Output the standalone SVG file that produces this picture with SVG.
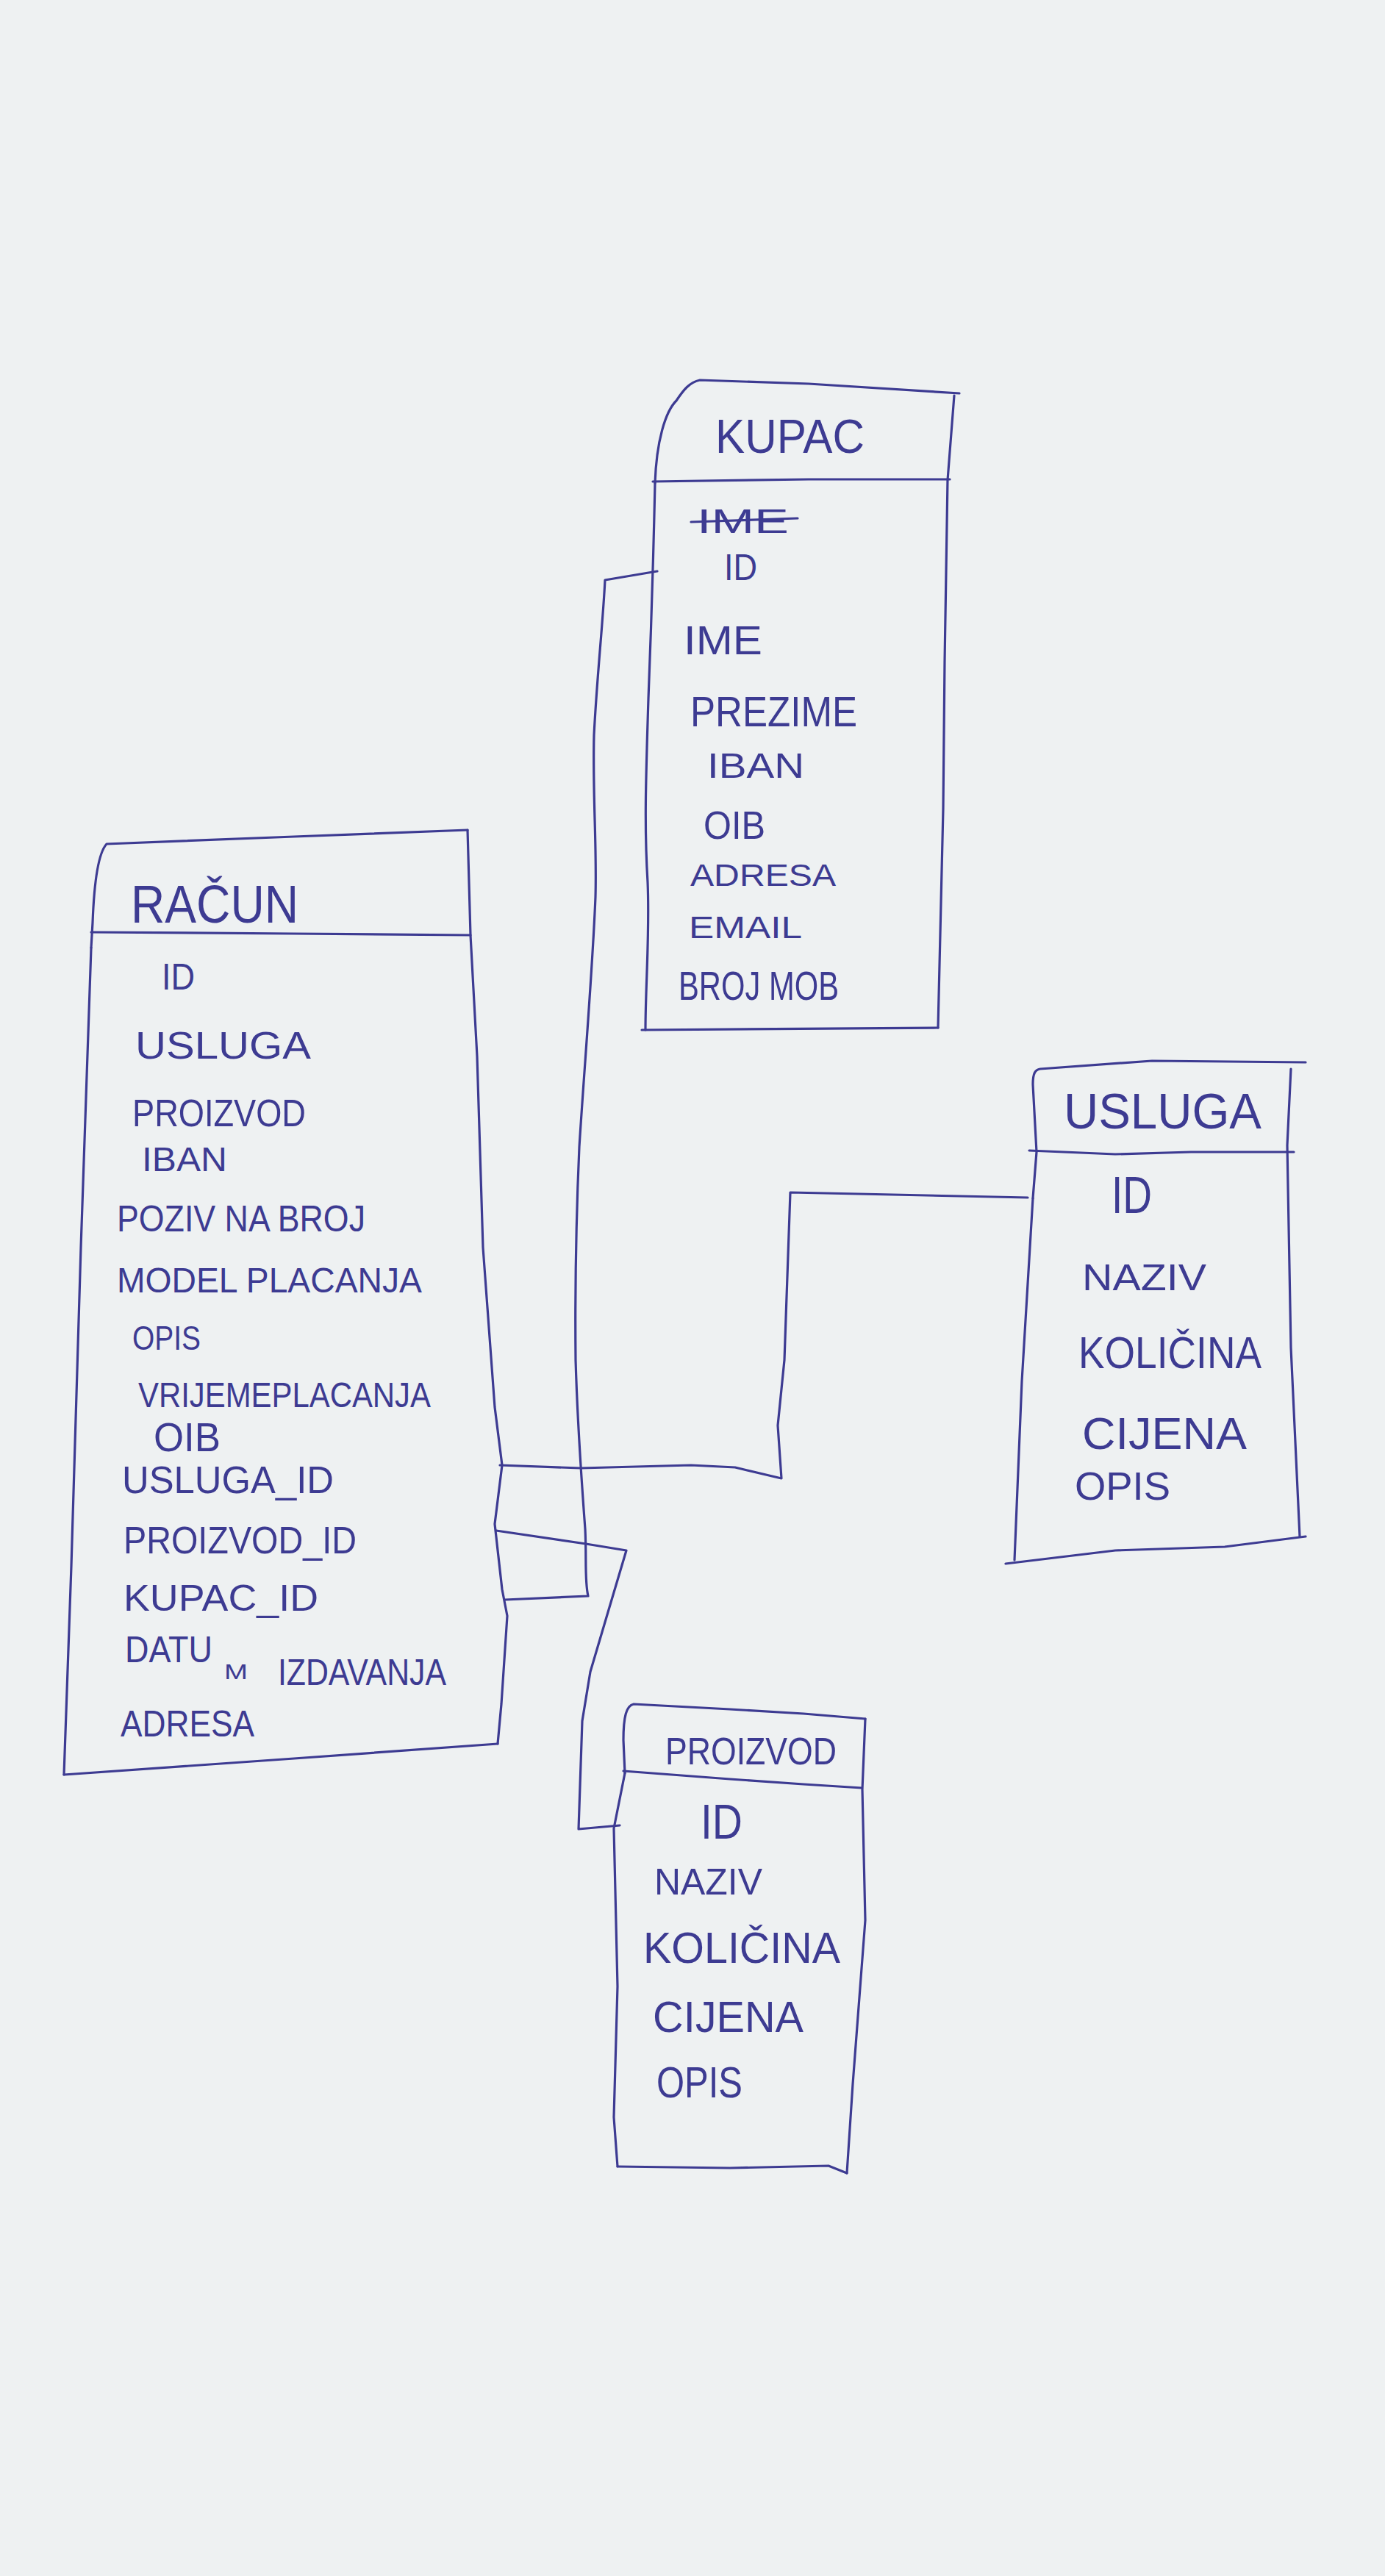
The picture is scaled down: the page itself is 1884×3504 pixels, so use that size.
<svg xmlns="http://www.w3.org/2000/svg" width="1884" height="3504" viewBox="0 0 1884 3504">
<style>
.ink{fill:none;stroke:#3d3b92;stroke-width:3.2;stroke-linecap:round;stroke-linejoin:round}
.t{fill:#3d3b92;font-family:"Liberation Sans",Arial,sans-serif;font-weight:normal}
</style>
<rect x="0" y="0" width="1884" height="3504" fill="#eef1f2"/>
<g id="connectors">
<path class="ink" d="M894 777 L823 789 C820 850 812 920 808 1000 C806 1080 812 1150 810 1220 C806 1320 795 1450 788 1560 C784 1650 782 1750 783 1850 C785 1920 790 2000 796 2080 C798 2120 795 2150 800 2171 L687 2176"/>
<path class="ink" d="M1398 1629 L1075 1622 L1067 1850 L1058 1939 L1063 2011 L1000 1996 L940 1993 L790 1997 L680 1993"/>
<path class="ink" d="M675 2082 L797 2100 L852 2109 L827 2193 L803 2274 L792 2341 L787 2488 L843 2483"/>
</g>
<g id="kupac">
<path class="ink" d="M891 657 C893 600 905 560 920 545 C930 530 938 520 952 517 L1100 522 L1305 535"/>
<path class="ink" d="M1298 538 L1289 653 L1285 900 L1283 1100 L1276 1398"/>
<path class="ink" d="M873 1401 L1276 1398"/>
<path class="ink" d="M891 657 C889 750 886 850 882 950 C879 1050 876 1120 881 1200 C884 1270 878 1340 878 1401"/>
<path class="ink" d="M888 655 L1100 652 L1292 652"/>
<text class="t" x="973" y="616" font-size="64" textLength="203" lengthAdjust="spacingAndGlyphs">KUPAC</text>
<text class="t" x="948" y="725" font-size="46" textLength="125" lengthAdjust="spacingAndGlyphs">IME</text>
<path class="ink" d="M940 710 L1085 705"/>
<text class="t" x="985" y="789" font-size="50" textLength="45" lengthAdjust="spacingAndGlyphs">ID</text>
<text class="t" x="930" y="890" font-size="56" textLength="107" lengthAdjust="spacingAndGlyphs">IME</text>
<text class="t" x="939" y="988" font-size="58" textLength="227" lengthAdjust="spacingAndGlyphs">PREZIME</text>
<text class="t" x="962" y="1058" font-size="48" textLength="132" lengthAdjust="spacingAndGlyphs">IBAN</text>
<text class="t" x="957" y="1141" font-size="54" textLength="84" lengthAdjust="spacingAndGlyphs">OIB</text>
<text class="t" x="939" y="1205" font-size="42" textLength="198" lengthAdjust="spacingAndGlyphs">ADRESA</text>
<text class="t" x="937" y="1276" font-size="42" textLength="154" lengthAdjust="spacingAndGlyphs">EMAIL</text>
<text class="t" x="923" y="1360" font-size="56" textLength="218" lengthAdjust="spacingAndGlyphs">BROJ MOB</text>
</g>
<g id="racun">
<path class="ink" d="M124 1289 L126 1255 C128 1200 134 1160 145 1148 L400 1138 L636 1129"/>
<path class="ink" d="M636 1129 L640 1272 L649 1437 L657 1697 L673 1914 L683 1993 L673 2073 L683 2162 L690 2198 L682 2318 L677 2372"/>
<path class="ink" d="M677 2372 L400 2392 L87 2414"/>
<path class="ink" d="M87 2414 L97 2130 L110 1697 L124 1289"/>
<path class="ink" d="M124 1268 L400 1270 L640 1272"/>
<text class="t" x="178" y="1255" font-size="72" textLength="228" lengthAdjust="spacingAndGlyphs">RAČUN</text>
<text class="t" x="220" y="1346" font-size="50" textLength="45" lengthAdjust="spacingAndGlyphs">ID</text>
<text class="t" x="184" y="1440" font-size="52" textLength="239" lengthAdjust="spacingAndGlyphs">USLUGA</text>
<text class="t" x="180" y="1532" font-size="52" textLength="236" lengthAdjust="spacingAndGlyphs">PROIZVOD</text>
<text class="t" x="193" y="1593" font-size="46" textLength="116" lengthAdjust="spacingAndGlyphs">IBAN</text>
<text class="t" x="159" y="1675" font-size="50" textLength="338" lengthAdjust="spacingAndGlyphs">POZIV NA BROJ</text>
<text class="t" x="159" y="1758" font-size="48" textLength="415" lengthAdjust="spacingAndGlyphs">MODEL PLACANJA</text>
<text class="t" x="180" y="1836" font-size="46" textLength="93" lengthAdjust="spacingAndGlyphs">OPIS</text>
<text class="t" x="188" y="1914" font-size="48" textLength="398" lengthAdjust="spacingAndGlyphs">VRIJEMEPLACANJA</text>
<text class="t" x="209" y="1974" font-size="55" textLength="91" lengthAdjust="spacingAndGlyphs">OIB</text>
<text class="t" x="166" y="2031" font-size="52" textLength="288" lengthAdjust="spacingAndGlyphs">USLUGA_ID</text>
<text class="t" x="168" y="2113" font-size="52" textLength="317" lengthAdjust="spacingAndGlyphs">PROIZVOD_ID</text>
<text class="t" x="168" y="2191" font-size="50" textLength="265" lengthAdjust="spacingAndGlyphs">KUPAC_ID</text>
<text class="t" font-size="50"><tspan x="170" y="2261" textLength="119" lengthAdjust="spacingAndGlyphs">DATU</tspan><tspan x="305" y="2284" font-size="30" textLength="32" lengthAdjust="spacingAndGlyphs">M</tspan><tspan x="366" y="2292" textLength="241" lengthAdjust="spacingAndGlyphs"> IZDAVANJA</tspan></text>
<text class="t" x="164" y="2362" font-size="50" textLength="182" lengthAdjust="spacingAndGlyphs">ADRESA</text>
</g>
<g id="usluga">
<path class="ink" d="M1405 1630 L1410 1567 L1405 1475 C1405 1460 1408 1455 1415 1454 L1567 1443 L1776 1445"/>
<path class="ink" d="M1756 1454 L1751 1558 L1756 1833 L1768 2090"/>
<path class="ink" d="M1776 2090 L1666 2104 L1517 2109 L1368 2127"/>
<path class="ink" d="M1405 1630 L1390 1879 L1380 2122"/>
<path class="ink" d="M1400 1565 L1517 1570 L1620 1567 L1760 1567"/>
<text class="t" x="1447" y="1535" font-size="68" textLength="269" lengthAdjust="spacingAndGlyphs">USLUGA</text>
<text class="t" x="1512" y="1650" font-size="70" textLength="55" lengthAdjust="spacingAndGlyphs">ID</text>
<text class="t" x="1472" y="1755" font-size="50" textLength="169" lengthAdjust="spacingAndGlyphs">NAZIV</text>
<text class="t" x="1467" y="1861" font-size="62" textLength="249" lengthAdjust="spacingAndGlyphs">KOLIČINA</text>
<text class="t" x="1472" y="1971" font-size="62" textLength="224" lengthAdjust="spacingAndGlyphs">CIJENA</text>
<text class="t" x="1462" y="2040" font-size="54" textLength="130" lengthAdjust="spacingAndGlyphs">OPIS</text>
</g>
<g id="proizvod">
<path class="ink" d="M850 2412 L848 2367 C848 2335 852 2320 862 2318 L993 2325 L1093 2331 L1177 2338"/>
<path class="ink" d="M1177 2338 L1173 2434 L1177 2612 L1160 2835 L1152 2956"/>
<path class="ink" d="M1152 2956 L1127 2946 L993 2949 L840 2947"/>
<path class="ink" d="M840 2947 L835 2880 L840 2702 L835 2487 L850 2412"/>
<path class="ink" d="M848 2409 L993 2420 L1093 2427 L1172 2432"/>
<text class="t" x="905" y="2400" font-size="52" textLength="233" lengthAdjust="spacingAndGlyphs">PROIZVOD</text>
<text class="t" x="953" y="2501" font-size="66" textLength="57" lengthAdjust="spacingAndGlyphs">ID</text>
<text class="t" x="890" y="2577" font-size="50" textLength="147" lengthAdjust="spacingAndGlyphs">NAZIV</text>
<text class="t" x="875" y="2670" font-size="60" textLength="268" lengthAdjust="spacingAndGlyphs">KOLIČINA</text>
<text class="t" x="888" y="2764" font-size="60" textLength="205" lengthAdjust="spacingAndGlyphs">CIJENA</text>
<text class="t" x="893" y="2853" font-size="60" textLength="117" lengthAdjust="spacingAndGlyphs">OPIS</text>
</g>
</svg>
